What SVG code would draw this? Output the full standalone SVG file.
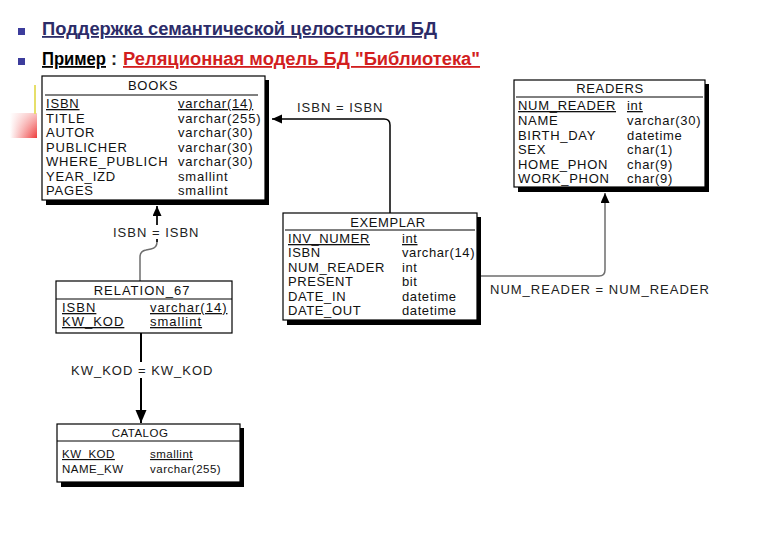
<svg xmlns="http://www.w3.org/2000/svg" width="780" height="540" viewBox="0 0 780 540">
<defs>
<linearGradient id="redg" x1="0" y1="0" x2="1" y2="0">
<stop offset="0" stop-color="#ffffff"/>
<stop offset="1" stop-color="#ee3a3a"/>
</linearGradient>
<linearGradient id="redv" x1="0" y1="0" x2="0" y2="1">
<stop offset="0" stop-color="#ffffff" stop-opacity="0.7"/>
<stop offset="1" stop-color="#ffffff" stop-opacity="0"/>
</linearGradient>
<marker id="arr" markerUnits="userSpaceOnUse" markerWidth="12" markerHeight="10" refX="10" refY="4.5" orient="auto">
<path d="M0,0 L10,4.5 L0,9 z" fill="#000"/>
</marker>
<marker id="arrBig" markerUnits="userSpaceOnUse" markerWidth="14" markerHeight="12" refX="13" refY="5.5" orient="auto">
<path d="M0,0 L13,5.5 L0,11 z" fill="#000"/>
</marker>
</defs>
<style>
.t{font-family:"Liberation Sans",Arial,sans-serif;fill:#111;font-size:13px}
.bk{letter-spacing:0.8px}
.rd{letter-spacing:0.7px}
.ex{letter-spacing:0.6px}
.rl{letter-spacing:1px}
.ct{font-size:11.5px;letter-spacing:0.5px}
.u{text-decoration:underline}
.box{fill:#fff;stroke:#000;stroke-width:1.2}
.sh{fill:#000}
.sep{stroke:#000;stroke-width:1}
.lbl{font-family:"Liberation Sans",Arial,sans-serif;fill:#222;font-size:13px;letter-spacing:1px}
.h{font-family:"Liberation Sans",Arial,sans-serif;font-weight:bold;font-size:18px}
</style>
<rect width="780" height="540" fill="#fff"/>

<!-- decorations -->
<rect x="10" y="113" width="27" height="25" fill="url(#redg)"/>
<rect x="10" y="113" width="27" height="25" fill="url(#redv)"/>
<line x1="35" y1="85" x2="35" y2="114" stroke="#e6df6a" stroke-width="2"/>

<!-- title -->
<g id="title">
<rect x="18" y="28" width="7" height="7" fill="#3c3c9c"/>
<text class="h u" x="42" y="35" fill="#2c2c68" textLength="395" lengthAdjust="spacingAndGlyphs">Поддержка семантической целостности БД</text>
<rect x="18" y="58" width="7" height="7" fill="#3c3c9c"/>
<text class="h u" x="42" y="65" fill="#000" textLength="64" lengthAdjust="spacingAndGlyphs">Пример</text>
<text class="h" x="111" y="65" fill="#222">:</text>
<text class="h u" x="123" y="65" fill="#d21e1e" textLength="357" lengthAdjust="spacingAndGlyphs">Реляционная модель БД "Библиотека"</text>
</g>

<!-- connectors -->
<g id="connectors" fill="none">
<path d="M390,213 V125 Q390,119 384,119 H272" stroke="#000" stroke-width="1.5" marker-end="url(#arr)"/>
<path d="M480,276 H599 Q605,276 605,270 V193" stroke="#6e6e6e" stroke-width="1.5" marker-end="url(#arr)"/>
<path d="M140,281 V257 Q140,251 146,250 L151,249 Q157,248 157,242 V206" stroke="#6e6e6e" stroke-width="1.5" marker-end="url(#arr)"/>
<path d="M157,242 V206" stroke="#000" stroke-width="1.5"/>
<path d="M141,333 V423" stroke="#000" stroke-width="2" marker-end="url(#arrBig)"/>
<rect x="110" y="225" width="92" height="14" fill="#fff"/>
<text class="lbl" x="113" y="237">ISBN = ISBN</text>
<text class="lbl" x="297" y="112">ISBN = ISBN</text>
<text class="lbl" x="490" y="294">NUM_READER = NUM_READER</text>
<rect x="68" y="362" width="148" height="16" fill="#fff"/>
<text class="lbl" x="71" y="375">KW_KOD = KW_KOD</text>
</g>

<!-- BOOKS -->
<g id="books">
<rect class="sh" x="46" y="80" width="223" height="125"/>
<rect class="box" x="42" y="76" width="223" height="124"/>
<text class="t bk" x="153" y="90" text-anchor="middle">BOOKS</text>
<line class="sep" x1="45" y1="95" x2="258" y2="95"/>
<text class="t bk u" x="46" y="108">ISBN</text><text class="t bk u" x="178" y="108">varchar(14)</text>
<text class="t bk" x="46" y="123">TITLE</text><text class="t bk" x="178" y="123">varchar(255)</text>
<text class="t bk" x="46" y="137">AUTOR</text><text class="t bk" x="178" y="137">varchar(30)</text>
<text class="t bk" x="46" y="152">PUBLICHER</text><text class="t bk" x="178" y="152">varchar(30)</text>
<text class="t bk" x="46" y="166">WHERE_PUBLICH</text><text class="t bk" x="178" y="166">varchar(30)</text>
<text class="t bk" x="46" y="181">YEAR_IZD</text><text class="t bk" x="178" y="181">smallint</text>
<text class="t bk" x="46" y="195">PAGES</text><text class="t bk" x="178" y="195">smallint</text>
</g>

<!-- READERS -->
<g id="readers">
<rect class="sh" x="518" y="84" width="191" height="108"/>
<rect class="box" x="514" y="80" width="191" height="107"/>
<text class="t rd" x="610" y="93" text-anchor="middle">READERS</text>
<line class="sep" x1="516" y1="97" x2="703" y2="97"/>
<text class="t rd u" x="518" y="110">NUM_READER</text><text class="t rd u" x="627" y="110">int</text>
<text class="t rd" x="518" y="125">NAME</text><text class="t rd" x="627" y="125">varchar(30)</text>
<text class="t rd" x="518" y="140">BIRTH_DAY</text><text class="t rd" x="627" y="140">datetime</text>
<text class="t rd" x="518" y="154">SEX</text><text class="t rd" x="627" y="154">char(1)</text>
<text class="t rd" x="518" y="169">HOME_PHON</text><text class="t rd" x="627" y="169">char(9)</text>
<text class="t rd" x="518" y="183">WORK_PHON</text><text class="t rd" x="627" y="183">char(9)</text>
</g>

<!-- EXEMPLAR -->
<g id="exemplar">
<rect class="sh" x="287" y="217" width="194" height="108"/>
<rect class="box" x="283" y="213" width="194" height="107"/>
<text class="t ex" x="388" y="227" text-anchor="middle">EXEMPLAR</text>
<line class="sep" x1="285" y1="230" x2="475" y2="230"/>
<text class="t ex u" x="288" y="243">INV_NUMER</text><text class="t ex u" x="402" y="243">int</text>
<text class="t ex" x="288" y="257">ISBN</text><text class="t ex" x="402" y="257">varchar(14)</text>
<text class="t ex" x="288" y="272">NUM_READER</text><text class="t ex" x="402" y="272">int</text>
<text class="t ex" x="288" y="286">PRESENT</text><text class="t ex" x="402" y="286">bit</text>
<text class="t ex" x="288" y="301">DATE_IN</text><text class="t ex" x="402" y="301">datetime</text>
<text class="t ex" x="288" y="315">DATE_OUT</text><text class="t ex" x="402" y="315">datetime</text>
</g>

<!-- RELATION_67 -->
<g id="relation_67">
<rect class="box" x="56" y="281" width="176" height="52"/>
<text class="t rl" x="142" y="295" text-anchor="middle">RELATION_67</text>
<line class="sep" x1="56" y1="299" x2="232" y2="299"/>
<text class="t rl u" x="62" y="312">ISBN</text><text class="t rl u" x="150" y="312">varchar(14)</text>
<text class="t rl u" x="62" y="326">KW_KOD</text><text class="t rl u" x="150" y="326">smallint</text>
</g>

<!-- CATALOG -->
<g id="catalog">
<rect class="sh" x="61" y="428" width="183" height="59"/>
<rect class="box" x="57" y="424" width="183" height="58"/>
<text class="t ct" x="140" y="437" text-anchor="middle">CATALOG</text>
<line class="sep" x1="57" y1="441" x2="240" y2="441"/>
<text class="t ct u" x="62" y="458">KW_KOD</text><text class="t ct u" x="150" y="458">smallint</text>
<text class="t ct" x="62" y="473">NAME_KW</text><text class="t ct" x="150" y="473">varchar(255)</text>
</g>
</svg>
